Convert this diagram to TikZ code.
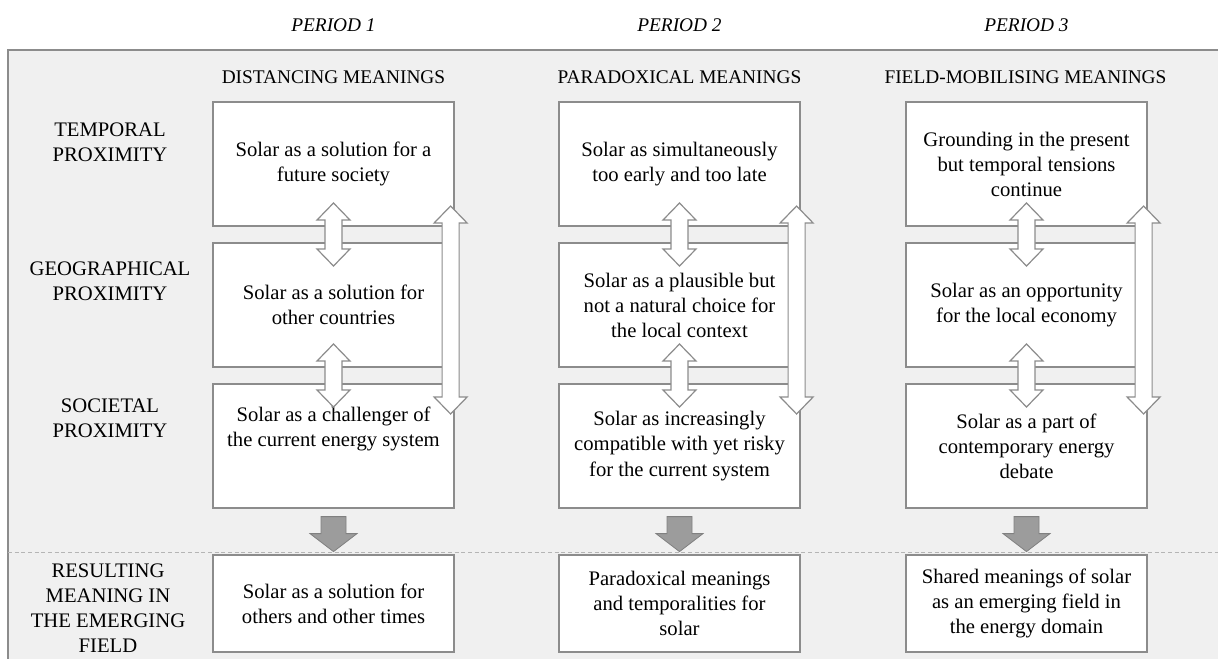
\documentclass[tikz,border=0pt]{standalone}
\usepackage{fontspec}
\setmainfont{Liberation Serif}
\usetikzlibrary{calc}
\definecolor{panelbg}{HTML}{F0F0F0}
\definecolor{edgegray}{HTML}{8C8C8C}
\definecolor{solidgray}{HTML}{9C9C9C}
\definecolor{solidedge}{HTML}{808080}
\definecolor{dashgray}{HTML}{B5B5B5}
\tikzset{
  txt/.style={font=\fontsize{15.5}{18.8}\selectfont},
  cell/.style={txt, draw=edgegray, fill=white, line width=0.9pt,
    minimum width=180.75pt, minimum height=93pt, align=center, inner sep=2pt},
  rescell/.style={cell, minimum height=72.75pt},
  rowlabel/.style={txt, align=center},
  colhead/.style={font=\fontsize{14.5}{17}\selectfont},
  period/.style={font=\fontsize{14.5}{17}\selectfont\itshape},
  hollow/.style={draw=edgegray, fill=white, line width=0.9pt, line join=miter},
  solidarrow/.style={draw=solidedge, fill=solidgray, line width=0.6pt},
  sepline/.style={draw=dashgray, line width=0.6pt, dash pattern=on 3pt off 2pt},
  % vertical double block arrow, argument = half length
  pics/dblarr/.style={code={
    \draw[hollow] (-8.5,-#1+17) -- (-16.5,-#1+17) -- (0,-#1) -- (16.5,-#1+17)
      -- (8.5,-#1+17) -- (8.5,#1-17) -- (16.5,#1-17) -- (0,#1)
      -- (-16.5,#1-17) -- (-8.5,#1-17) -- cycle;}},
  % solid downward block arrow, drawn from its top edge
  pics/downarr/.style={code={
    \draw[solidarrow] (-12.5,0) -- (12.5,0) -- (12.5,17) -- (23.5,17)
      -- (0,35) -- (-23.5,17) -- (-12.5,17) -- cycle;}},
}
\begin{document}
\begin{tikzpicture}[x=0.75pt, y=-0.75pt]
\path[use as bounding box] (0,0) rectangle (1218,658);
\clip (0,0) rectangle (1218,658);

% panel
\draw[fill=panelbg, draw=edgegray, line width=0.9pt] (8,50) rectangle (1240,680);
\coordinate (sepL) at (8,552);
\coordinate (sepR) at (1218,552);
\draw[sepline] (sepL) -- (sepR);

% period titles
\node[period] (p1) at (333.5,25) {PERIOD 1};
\node[period] (p2) at (679.5,25) {PERIOD 2};
\node[period] (p3) at (1026.5,25) {PERIOD 3};

% column headings
\node[colhead] (h1) at (333.5,77) {DISTANCING MEANINGS};
\node[colhead] (h2) at (679.5,77) {PARADOXICAL MEANINGS};
\node[colhead] (h3) at (1025.5,77) {FIELD-MOBILISING MEANINGS};

% row labels
\node[rowlabel] (l1) at (110,142) {TEMPORAL\\PROXIMITY};
\node[rowlabel] (l2) at (110,281) {GEOGRAPHICAL\\PROXIMITY};
\node[rowlabel] (l3) at (110,418) {SOCIETAL\\PROXIMITY};
\node[rowlabel] (l4) at (108,608) {RESULTING\\MEANING IN\\THE EMERGING\\FIELD};

% period 1
\node[cell] (c11) at (333.5,164) {Solar as a solution for a\\future society};
\node[cell] (c12) at (333.5,305) {Solar as a solution for\\other countries};
\node[cell] (c13) at (333.5,446) {Solar as a challenger of\\the current energy system\\[10pt]};
\node[rescell] (r1) at (333.5,603.5) {Solar as a solution for\\others and other times};

% period 2
\node[cell] (c21) at (679.5,164) {Solar as simultaneously\\too early and too late};
\node[cell] (c22) at (679.5,305) {Solar as a plausible but\\not a natural choice for\\the local context};
\node[cell] (c23) at (679.5,446) {Solar as increasingly\\compatible with yet risky\\for the current system};
\node[rescell] (r2) at (679.5,603.5) {Paradoxical meanings\\and temporalities for\\solar};

% period 3
\node[cell] (c31) at (1026.5,164) {Grounding in the present\\but temporal tensions\\continue};
\node[cell] (c32) at (1026.5,305) {Solar as an opportunity\\for the local economy};
\node[cell] (c33) at (1026.5,446) {Solar as a part of\\contemporary energy\\debate};
\node[rescell] (r3) at (1026.5,603.5) {Shared meanings of solar\\as an emerging field in\\the energy domain};

% links between neighbouring proximities
\foreach \c in {1,2,3}{
  \pic at ($(c\c1.south)!.5!(c\c2.north)$) {dblarr=31.5};
  \pic at ($(c\c2.south)!.5!(c\c3.north)$) {dblarr=31.5};
  \pic at ($(c\c1.east)!.5!(c\c3.east)+(-4,5)$) {dblarr=104};
  \pic at ($(c\c3.south)+(0,8)$) {downarr};
}
\end{tikzpicture}
\end{document}
